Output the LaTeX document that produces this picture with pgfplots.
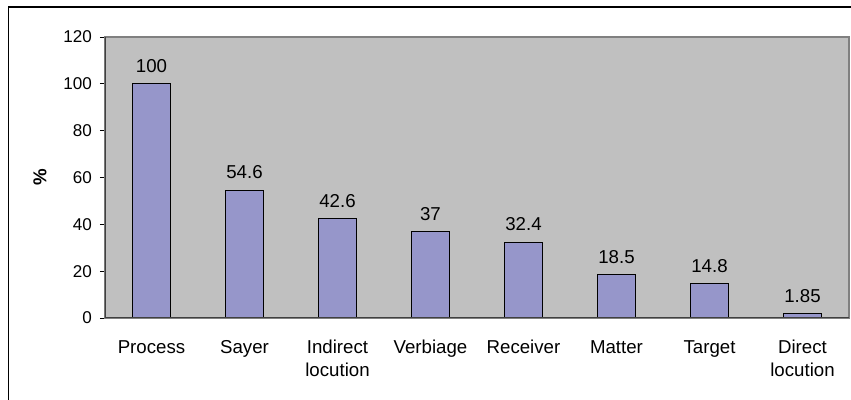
\documentclass[border=0pt]{standalone}
\usepackage{pgfplots}
\pgfplotsset{compat=1.18}
\usepackage{fontspec}
\setmainfont{Liberation Sans}
\definecolor{bggray}{RGB}{192,192,192}
\definecolor{barblue}{RGB}{150,150,202}
\begin{document}
\begin{tikzpicture}
\useasboundingbox (0pt,0pt) rectangle (638.25pt,300pt);
\draw[line width=1.1pt] (6.4pt,0pt) -- (6.4pt,294.75pt) -- (638.25pt,294.75pt);
\begin{axis}[
  at={(78.75pt,61.5pt)}, anchor=south west,
  scale only axis,
  width=558pt, height=210.75pt,
  /pgf/number format/assume math mode=true,
  xmin=-0.5, xmax=7.5,
  ymin=0, ymax=120,
  ytick={0,20,...,120},
  xtick={0,...,7},
  xticklabels={Process,Sayer,{Indirect\\locution},Verbiage,Receiver,Matter,Target,{Direct\\locution}},
  major x tick style={draw=none},
  extra x ticks={0.5,1.5,...,7.5},
  extra x tick labels={},
  extra x tick style={major tick length=3.75pt, tick style={draw=black}, tick align=outside},
  tick align=outside,
  major tick length=3.75pt,
  ytick pos=left,
  xtick pos=bottom,
  tick style={black, line width=0.6pt},
  xticklabel style={font=\fontsize{14}{17.25}\selectfont, align=center, yshift=-9.5pt},
  yticklabel style={font=\fontsize{12.8}{15}\selectfont, xshift=-2.5pt},
  ylabel={\bfseries\%},
  ylabel style={font=\fontsize{14}{16}\selectfont, at={(axis description cs:-0.0874,0.5)}, anchor=center},
  axis background/.style={fill=bggray},
  axis line style={draw=gray, line width=1pt},
  ybar,
  bar width=28.5pt,
  nodes near coords,
  point meta=explicit symbolic,
  every node near coord/.append style={font=\fontsize{14}{16}\selectfont, black, yshift=4.5pt},
]
\addplot[fill=barblue, draw=black, line width=0.9pt] table[meta=lab] {
x y lab
0 100 100
1 54.6 54.6
2 42.6 42.6
3 37 37
4 32.4 32.4
5 18.5 18.5
6 14.8 14.8
7 1.85 1.85
};
\draw[black!75, line width=1pt] (rel axis cs:0,1) -- (rel axis cs:0,0) -- (rel axis cs:1,0);
\end{axis}
\end{tikzpicture}
\end{document}
